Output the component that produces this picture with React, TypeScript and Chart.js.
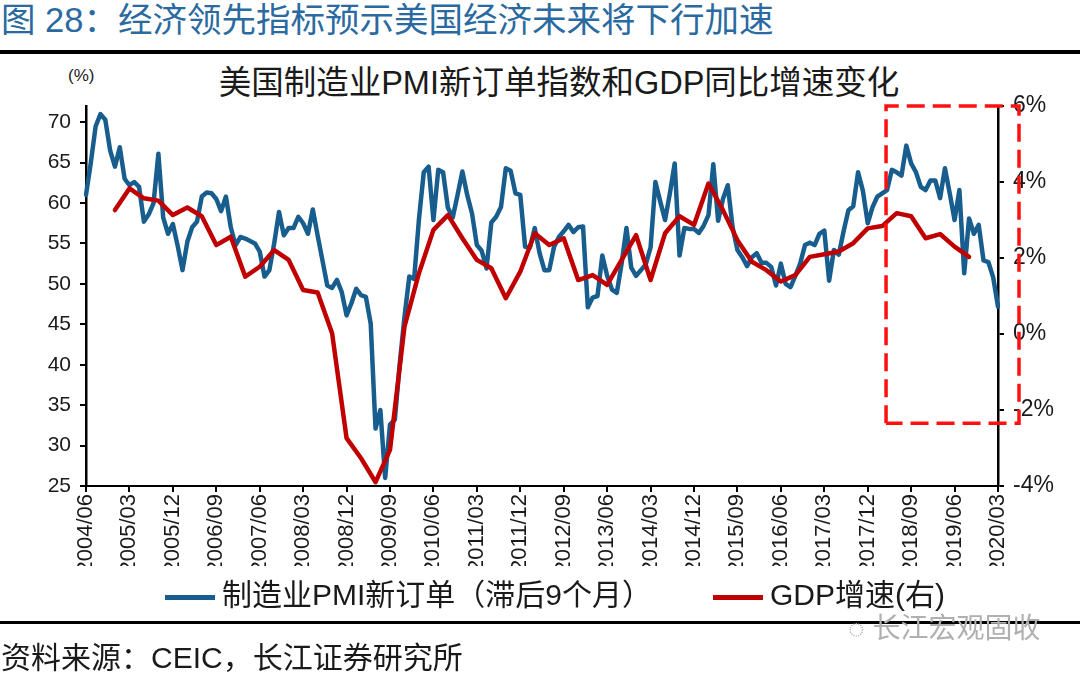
import React, { useEffect, useRef } from "react";
import { Chart, registerables } from "chart.js";

Chart.register(...registerables);

// ---- Data ----
const START_YEAR = 2004;
const START_MONTH = 6;

// Manufacturing PMI new orders (lagged 9 months), monthly from 2004/06 to 2020/03
const pmiNewOrders: number[] = [
  61.0, 65.0, 69.5, 71.0, 70.3, 66.5, 64.5, 66.9, 63.0, 62.2, 62.6, 62.0,
  57.7, 58.6, 60.0, 66.1, 58.2, 56.2, 57.4, 54.7, 51.7, 55.2, 57.0, 57.7,
  60.8, 61.3, 61.2, 60.5, 59.0, 60.8, 57.0, 54.8, 55.8, 55.6, 55.3, 55.0,
  54.0, 50.9, 51.7, 55.0, 58.9, 56.0, 56.9, 56.9, 58.3, 57.5, 56.2, 59.2,
  56.0, 52.9, 49.8, 49.5, 50.5, 49.0, 46.1, 47.6, 49.4, 48.6, 48.4, 45.1,
  32.1, 34.4, 26.0, 32.6, 33.2, 40.0, 45.9, 50.9, 50.6, 58.0, 63.8, 64.5,
  57.9, 64.1, 63.8, 59.4, 58.2, 61.0, 63.9, 61.0, 58.7, 54.8, 54.1, 51.9,
  57.6, 58.3, 59.5, 64.3, 64.0, 61.2, 61.0, 54.6, 54.5, 56.9, 53.8, 51.7,
  51.7, 54.6, 55.8, 56.5, 57.3, 56.4, 57.0, 57.1, 47.1, 48.3, 48.5, 53.5,
  51.0, 49.3, 48.9, 52.5, 56.9, 52.0, 51.0, 51.7, 52.4, 54.5, 62.6, 60.2,
  57.9, 61.2, 64.9, 53.5, 56.9, 56.8, 56.8, 56.3, 57.2, 58.5, 64.8, 57.8,
  60.5, 62.2, 57.0, 54.2, 53.3, 52.2, 53.3, 53.8, 52.6, 52.6, 52.1, 49.8,
  52.5, 50.0, 49.6, 51.0, 52.5, 54.8, 55.1, 54.8, 56.2, 56.6, 50.4, 54.2,
  53.6, 56.5, 59.1, 59.6, 63.8, 61.5, 57.5, 59.5, 60.8, 61.2, 61.6, 64.1,
  63.8, 63.4, 67.1, 64.9, 63.8, 62.0, 61.6, 62.8, 62.8, 60.6, 64.3, 61.2,
  57.9, 61.6, 51.3, 58.1, 56.2, 57.3, 52.9, 52.7, 50.8, 47.2,
];

// US real GDP growth yoy (%), quarterly, first quarter plotted at 2004/12
const GDP_START = "2004/12";
const gdpGrowth: number[] = [
  3.26, 3.83, 3.57, 3.51, 3.13, 3.33, 3.10, 2.34, 2.56, 1.51,
  1.77, 2.21, 1.95, 1.16, 1.09, 0.02, -2.74, -3.27, -3.90, -3.05,
  0.19, 1.60, 2.74, 3.13, 2.52, 1.95, 1.73, 0.94, 1.64, 2.65,
  2.34, 2.52, 1.42, 1.55, 1.29, 1.95, 2.60, 1.42, 2.65, 3.10,
  2.87, 3.96, 3.26, 2.47, 1.90, 1.68, 1.38, 1.55, 2.03, 2.10,
  2.17, 2.39, 2.78, 2.84, 3.18, 3.10, 2.52, 2.63, 2.30, 2.03,
];

const leftTicks = [25, 30, 35, 40, 45, 50, 55, 60, 65, 70];
const rightTicks = [-4, -2, 0, 2, 4, 6];
const LABEL_EVERY = 9;

// highlighted window (dashed box)
const highlightFrom = "2018/03";
const highlightTopPct = 6;
const highlightBottomPct = -2.35;

const BLUE = "#175D8D";
const RED = "#C00000";
const FONT = "'Liberation Sans', Arial, 'Noto Sans CJK SC', sans-serif";

const monthLabels: string[] = pmiNewOrders.map((_, i) => {
  const m = START_MONTH - 1 + i;
  const y = START_YEAR + Math.floor(m / 12);
  const mm = (m % 12) + 1;
  return `${y}/${mm < 10 ? "0" + mm : mm}`;
});

const gdpSeries: (number | null)[] = monthLabels.map(() => null);
const gdpStartIdx = monthLabels.indexOf(GDP_START);
gdpGrowth.forEach((v, k) => {
  gdpSeries[gdpStartIdx + k * 3] = v;
});

const boxPlugin = {
  id: "boxPlugin",
  afterDatasetsDraw(chart: any) {
    const { ctx, chartArea, scales } = chart;
    const x0 = scales.x.getPixelForValue(monthLabels.indexOf(highlightFrom) + 0.8);
    const y0 = scales.y1.getPixelForValue(highlightTopPct);
    const y1 = scales.y1.getPixelForValue(highlightBottomPct);
    const x1 = chartArea.right + 21;
    ctx.save();
    ctx.strokeStyle = "#FF1010";
    ctx.lineWidth = 3.5;
    ctx.setLineDash([18, 8]);
    ctx.beginPath();
    ctx.moveTo(x0, y1);
    ctx.lineTo(x0, y0);
    ctx.lineTo(x1, y0);
    ctx.lineTo(x1, y1);
    ctx.lineTo(x0, y1);
    ctx.stroke();
    ctx.restore();
  },
};

export default function App() {
  const ref = useRef<HTMLCanvasElement | null>(null);

  useEffect(() => {
    if (!ref.current) return;
    const chart = new Chart(ref.current, {
      type: "line",
      data: {
        labels: monthLabels,
        datasets: [
          {
            label: "GDP增速(右)",
            data: gdpSeries,
            yAxisID: "y1",
            borderColor: RED,
            backgroundColor: RED,
            borderWidth: 4.5,
            pointRadius: 0,
            spanGaps: true,
            tension: 0,
            borderJoinStyle: "round",
            borderCapStyle: "round",
            order: 0,
          },
          {
            label: "制造业PMI新订单（滞后9个月）",
            data: pmiNewOrders,
            yAxisID: "y",
            borderColor: BLUE,
            backgroundColor: BLUE,
            borderWidth: 4.5,
            pointRadius: 0,
            tension: 0,
            borderJoinStyle: "round",
            borderCapStyle: "round",
            order: 1,
          },
        ],
      },
      options: {
        responsive: false,
        animation: false,
        layout: { padding: { left: 0, right: 22, top: 106, bottom: 111 } },
        plugins: {
          legend: { display: false },
          title: { display: false },
          tooltip: { enabled: false },
        },
        scales: {
          x: {
            type: "category",
            offset: false,
            afterFit: (s: any) => {
              s.height = 80;
            },
            grid: {
              drawOnChartArea: false,
              drawTicks: true,
              tickLength: 6,
              color: "#000",
              lineWidth: 2,
            },
            border: { display: true, color: "#000", width: 2 },
            ticks: {
              autoSkip: false,
              minRotation: 90,
              maxRotation: 90,
              padding: 2,
              color: "#1a1a1a",
              font: { family: FONT, size: 22 },
              callback: (_v: any, i: number) =>
                i % LABEL_EVERY === 0 ? monthLabels[i] : null,
            },
          },
          y: {
            position: "left",
            min: 25,
            max: 72,
            afterFit: (s: any) => {
              s.width = 86;
            },
            afterBuildTicks: (s: any) => {
              s.ticks = leftTicks.map((v) => ({ value: v }));
            },
            grid: {
              drawOnChartArea: false,
              drawTicks: true,
              tickLength: 6,
              color: "#000",
              lineWidth: 2,
            },
            border: { display: true, color: "#000", width: 2.5 },
            ticks: {
              padding: 9,
              color: "#1a1a1a",
              font: { family: FONT, size: 21 },
            },
          },
          y1: {
            position: "right",
            min: -4,
            max: 6,
            afterFit: (s: any) => {
              s.width = 60;
            },
            afterBuildTicks: (s: any) => {
              s.ticks = rightTicks.map((v) => ({ value: v }));
            },
            grid: {
              drawOnChartArea: false,
              drawTicks: true,
              tickLength: 6,
              color: "#000",
              lineWidth: 2,
            },
            border: { display: true, color: "#000", width: 2.5 },
            ticks: {
              padding: 9,
              color: "#1a1a1a",
              font: { family: FONT, size: 23 },
              callback: (v: any) => `${v}%`,
            },
          },
        },
      },
      plugins: [boxPlugin],
    } as any);
    return () => chart.destroy();
  }, []);

  const cjk = "'Liberation Sans', Arial, 'Noto Sans CJK SC', sans-serif";

  return (
    <div
      style={{
        position: "fixed",
        left: 0,
        top: 0,
        width: 1080,
        height: 677,
        background: "#fff",
        overflow: "hidden",
        fontFamily: cjk,
      }}
    >
      <div
        style={{
          position: "absolute",
          left: 1,
          top: 0,
          fontSize: 34.5,
          lineHeight: "40px",
          color: "#2a6aa0",
          whiteSpace: "nowrap",
        }}
      >
        图 28：经济领先指标预示美国经济未来将下行加速
      </div>
      <div
        style={{
          position: "absolute",
          left: 0,
          top: 50,
          width: 1080,
          height: 4,
          background: "#000",
        }}
      />
      <div
        style={{
          position: "absolute",
          left: 0,
          width: 1080,
          top: 63,
          textAlign: "center",
          fontSize: 32.5,
          lineHeight: "40px",
          color: "#1a1a1a",
          paddingLeft: 38,
          boxSizing: "border-box",
          whiteSpace: "nowrap",
        }}
      >
        美国制造业PMI新订单指数和GDP同比增速变化
      </div>
      <div
        style={{
          position: "absolute",
          left: 68,
          top: 66,
          fontSize: 17,
          color: "#1a1a1a",
        }}
      >
        (%)
      </div>
      <canvas
        ref={ref}
        width={1080}
        height={677}
        style={{ position: "absolute", left: 0, top: 0, width: 1080, height: 677 }}
      />
      {/* legend */}
      <div
        style={{
          position: "absolute",
          left: 165,
          top: 595,
          width: 50,
          height: 5,
          background: BLUE,
        }}
      />
      <div
        style={{
          position: "absolute",
          left: 222,
          top: 576,
          fontSize: 30,
          lineHeight: "38px",
          color: "#1a1a1a",
          whiteSpace: "nowrap",
        }}
      >
        制造业PMI新订单（滞后9个月）
      </div>
      <div
        style={{
          position: "absolute",
          left: 713,
          top: 595,
          width: 50,
          height: 5,
          background: RED,
        }}
      />
      <div
        style={{
          position: "absolute",
          left: 770,
          top: 576,
          fontSize: 30,
          lineHeight: "38px",
          color: "#1a1a1a",
          whiteSpace: "nowrap",
        }}
      >
        GDP增速(右)
      </div>
      <div
        style={{
          position: "absolute",
          left: 0,
          top: 621,
          width: 1080,
          height: 3,
          background: "#000",
        }}
      />
      <div
        style={{
          position: "absolute",
          left: 848,
          top: 611,
          fontSize: 28,
          lineHeight: "36px",
          color: "#b0b0b0",
          whiteSpace: "nowrap",
        }}
      >
        ◌ 长江宏观固收
      </div>
      <div
        style={{
          position: "absolute",
          left: 1,
          top: 639,
          fontSize: 30,
          lineHeight: "38px",
          color: "#1a1a1a",
          whiteSpace: "nowrap",
        }}
      >
        资料来源：CEIC，长江证券研究所
      </div>
    </div>
  );
}
